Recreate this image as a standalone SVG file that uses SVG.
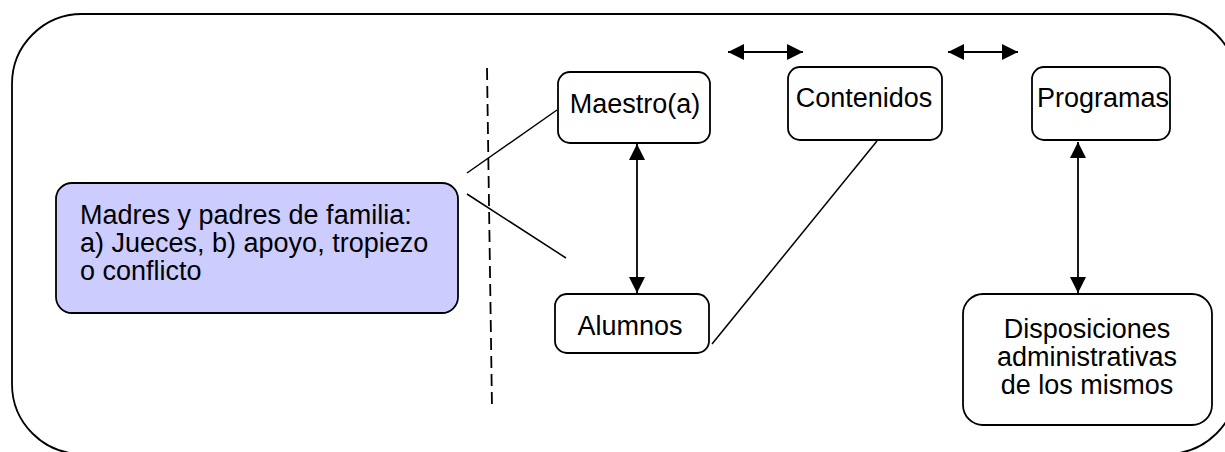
<svg xmlns="http://www.w3.org/2000/svg" width="1225" height="452" viewBox="0 0 1225 452">
  <style>
    .box { fill: #ffffff; stroke: #000000; stroke-width: 1.8; }
    .blue { fill: #ccccff; stroke: #000000; stroke-width: 1.8; }
    .frame { fill: none; stroke: #000000; stroke-width: 1.8; }
    .lbl { font-family: "Liberation Sans", Arial, sans-serif; font-size: 27px; fill: #000000; }
    .mid { text-anchor: middle; }
    .ln { stroke: #000000; stroke-width: 1.5; fill: none; }
    .dbl { stroke: #000000; stroke-width: 1.8; fill: none; marker-start: url(#ah); marker-end: url(#ah); }
    .dash { stroke: #000000; stroke-width: 1.8; stroke-dasharray: 12 6; fill: none; }
  </style>
  <defs>
    <marker id="ah" viewBox="0 0 16 16" refX="16" refY="8" markerWidth="16" markerHeight="16" markerUnits="userSpaceOnUse" orient="auto-start-reverse">
      <path d="M0,0 L16,8 L0,16 z" fill="#000000"/>
    </marker>
  </defs>

  <!-- outer rounded frame -->
  <rect class="frame" x="12" y="14" width="1225" height="440" rx="70" ry="70"/>

  <!-- connectors -->
  <g id="connectors">
    <line class="dash" x1="487" y1="68" x2="492" y2="408"/>
    <line class="ln" x1="467" y1="173" x2="557" y2="110"/>
    <line class="ln" x1="467" y1="194" x2="566" y2="258"/>
    <line class="dbl" x1="637" y1="144" x2="637" y2="293"/>
    <line class="ln" x1="712" y1="344" x2="877" y2="141"/>
    <line class="dbl" x1="1078" y1="142" x2="1078" y2="293"/>
    <line class="dbl" x1="728" y1="52" x2="803" y2="52"/>
    <line class="dbl" x1="948" y1="52" x2="1018" y2="52"/>
  </g>

  <g id="padres">
    <rect class="blue" x="56" y="183" width="402" height="130" rx="16" ry="16"/>
    <text class="lbl" x="80" y="224">Madres y padres de familia:</text>
    <text class="lbl" x="80" y="252">a) Jueces, b) apoyo, tropiezo</text>
    <text class="lbl" x="80" y="280">o conflicto</text>
  </g>

  <g id="maestro">
    <rect class="box" x="558" y="72" width="152" height="71" rx="12" ry="12"/>
    <text class="lbl mid" x="635" y="113">Maestro(a)</text>
  </g>

  <g id="contenidos">
    <rect class="box" x="788" y="67" width="154" height="73" rx="12" ry="12"/>
    <text class="lbl mid" x="864" y="107">Contenidos</text>
  </g>

  <g id="programas">
    <rect class="box" x="1032" y="67" width="138" height="73" rx="12" ry="12"/>
    <text class="lbl mid" x="1103" y="107">Programas</text>
  </g>

  <g id="alumnos">
    <rect class="box" x="555" y="294" width="154" height="59" rx="12" ry="12"/>
    <text class="lbl mid" x="630" y="335">Alumnos</text>
  </g>

  <g id="disposiciones">
    <rect class="box" x="963" y="294" width="249" height="131" rx="20" ry="20"/>
    <text class="lbl mid" x="1087" y="338">Disposiciones</text>
    <text class="lbl mid" x="1087" y="366">administrativas</text>
    <text class="lbl mid" x="1087" y="394">de los mismos</text>
  </g>
</svg>
